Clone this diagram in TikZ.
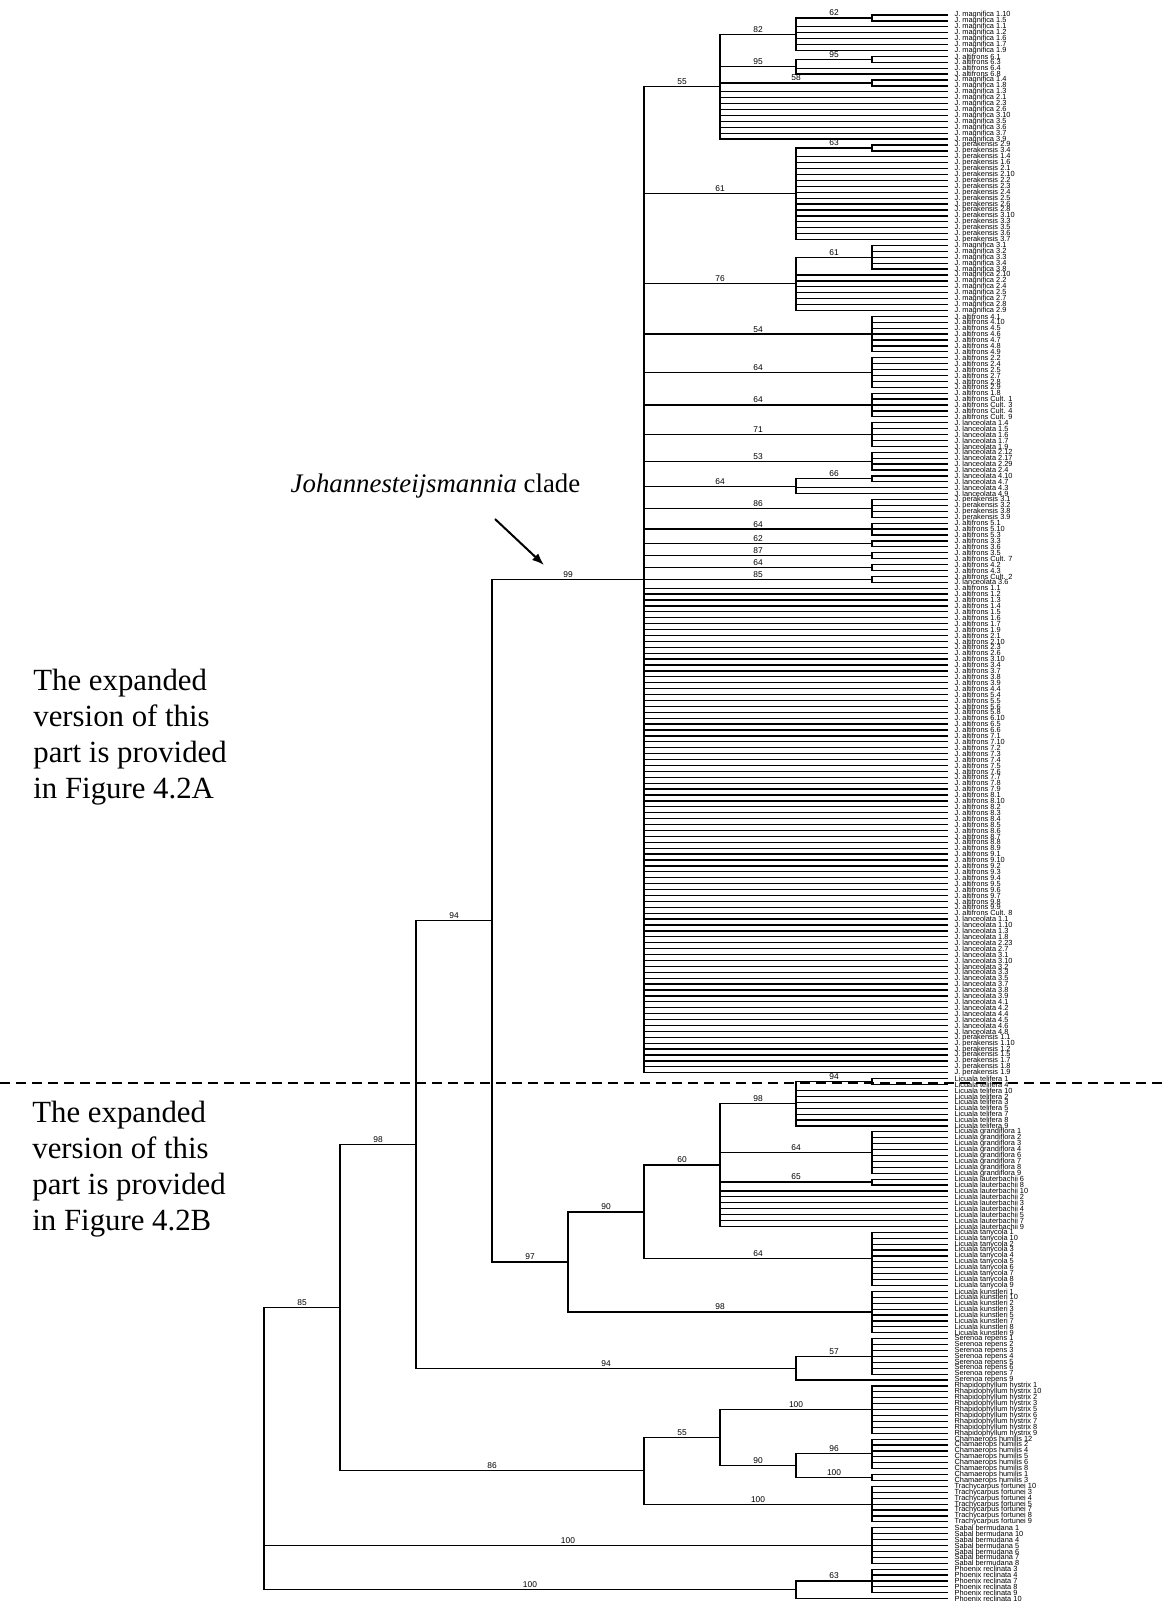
\documentclass[tikz,border=0pt]{standalone}
\usepackage{fontspec}
\setmainfont{Liberation Serif}
\newfontfamily\arialfont{Liberation Sans}
\newcommand{\tipfont}{\arialfont\fontsize{3.7}{4}\selectfont}
\newcommand{\bsfont}{\arialfont\fontsize{4.2}{4.5}\selectfont}
\newcommand{\notefont}{\fontsize{15.4}{18}\selectfont}
\usetikzlibrary{arrows.meta}

\begin{document}
\begin{tikzpicture}[
		x=0.5pt, y=-0.5pt,
		tip/.style={anchor=west, inner xsep=3pt, inner ysep=0pt, font=\tipfont},
		bs/.style={pos=0.75, above, inner sep=0.7pt, font=\bsfont},
		branch/.style={line width=0.6pt},
		note/.style={anchor=west, align=left, inner sep=0pt, font=\notefont}
	]
	\path[fill=white, use as bounding box] (0,0) rectangle (1164,1601);

	\begin{scope}[shift={(0,9.091)}, yscale=5.909, branch]
		% tips
		\foreach \s [count=\i] in {1.10,1.5,1.1,1.2,1.6,1.7,1.9}
			\node[tip] (t\i) at (948,\i) {J. magnifica \s};
		\foreach \s [count=\i from 8] in {6.1,6.3,6.4,6.8}
			\node[tip] (t\i) at (948,\i) {J. altifrons \s};
		\foreach \s [count=\i from 12] in {1.4,1.8,1.3,2.1,2.3,2.6,3.10,3.5,3.6,3.7,3.9}
			\node[tip] (t\i) at (948,\i) {J. magnifica \s};
		\foreach \s [count=\i from 23] in {2.9,3.4,1.4,1.6,2.1,2.10,2.2,2.3,2.4,2.5,2.6,2.8,3.10,3.3,3.5,3.6,3.7}
			\node[tip] (t\i) at (948,\i) {J. perakensis \s};
		\foreach \s [count=\i from 40] in {3.1,3.2,3.3,3.4,3.8,2.10,2.2,2.4,2.5,2.7,2.8,2.9}
			\node[tip] (t\i) at (948,\i) {J. magnifica \s};
		\foreach \s [count=\i from 52] in {4.1,4.10,4.5,4.6,4.7,4.8,4.9,2.2,2.4,2.5,2.7,2.8,2.9,1.8,Cult. 1,Cult. 3,Cult. 4,Cult. 9}
			\node[tip] (t\i) at (948,\i) {J. altifrons \s};
		\foreach \s [count=\i from 70] in {1.4,1.5,1.6,1.7,1.9,2.12,2.17,2.29,2.4,4.10,4.7,4.3,4.9}
			\node[tip] (t\i) at (948,\i) {J. lanceolata \s};
		\foreach \s [count=\i from 83] in {3.1,3.2,3.8,3.9}
			\node[tip] (t\i) at (948,\i) {J. perakensis \s};
		\foreach \s [count=\i from 87] in {5.1,5.10,5.3,3.3,3.6,3.5,Cult. 7,4.2,4.3,Cult. 2}
			\node[tip] (t\i) at (948,\i) {J. altifrons \s};
		\node[tip] (t97) at (948,97) {J. lanceolata 3.6};
		\foreach \s [count=\i from 98] in {1.1,1.2,1.3,1.4,1.5,1.6,1.7,1.9,2.1,2.10,2.3,2.6,3.10,3.4,3.7,
				3.8,3.9,4.4,5.4,5.5,5.6,5.8,6.10,6.5,6.6,7.1,7.10,7.2,7.3,7.4,7.5,7.6,7.7,7.8,7.9,8.1,8.10,8.2,
				8.3,8.4,8.5,8.6,8.7,8.8,8.9,9.1,9.10,9.2,9.3,9.4,9.5,9.6,9.7,9.8,9.9,Cult. 8}
			\node[tip] (t\i) at (948,\i) {J. altifrons \s};
		\foreach \s [count=\i from 154] in {1.1,1.10,1.3,1.8,2.23,2.7,3.1,3.10,3.2,3.3,3.5,3.7,3.8,3.9,4.1,4.2,4.4,4.5,4.6,4.8}
			\node[tip] (t\i) at (948,\i) {J. lanceolata \s};
		\foreach \s [count=\i from 174] in {1.1,1.10,1.2,1.5,1.7,1.8,1.9}
			\node[tip] (t\i) at (948,\i) {J. perakensis \s};
		\foreach \s [count=\i from 181] in {1,4,10,2,3,5,7,8,9}
			\node[tip] (t\i) at (948,\i) {Licuala telifera \s};
		\foreach \s [count=\i from 190] in {1,2,3,4,6,7,8,9}
			\node[tip] (t\i) at (948,\i) {Licuala grandiflora \s};
		\foreach \s [count=\i from 198] in {6,8,10,2,3,4,5,7,9}
			\node[tip] (t\i) at (948,\i) {Licuala lauterbachii \s};
		\foreach \s [count=\i from 207] in {1,10,2,3,4,5,6,7,8,9}
			\node[tip] (t\i) at (948,\i) {Licuala tanycola \s};
		\foreach \s [count=\i from 217] in {1,10,2,3,5,7,8,9}
			\node[tip] (t\i) at (948,\i) {Licuala kunstleri \s};
		\foreach \s [count=\i from 225] in {1,2,3,4,5,6,7,9}
			\node[tip] (t\i) at (948,\i) {Serenoa repens \s};
		\foreach \s [count=\i from 233] in {1,10,2,3,5,6,7,8,9}
			\node[tip] (t\i) at (948,\i) {Rhapidophyllum hystrix \s};
		\foreach \s [count=\i from 242] in {12,2,4,5,6,8,1,3}
			\node[tip] (t\i) at (948,\i) {Chamaerops humilis \s};
		\foreach \s [count=\i from 250] in {10,3,4,5,7,8,9}
			\node[tip] (t\i) at (948,\i) {Trachycarpus fortunei \s};
		\foreach \s [count=\i from 257] in {1,10,4,5,6,7,8}
			\node[tip] (t\i) at (948,\i) {Sabal bermudana \s};
		\foreach \s [count=\i from 264] in {3,4,7,8,9,10}
			\node[tip] (t\i) at (948,\i) {Phoenix reclinata \s};

		% inner nodes, Johannesteijsmannia part
		\coordinate (a62) at (872,1.5);
		\coordinate (a95) at (872,8.5);
		\coordinate (a58) at (872,12.5);
		\coordinate (a63) at (872,23.5);
		\coordinate (a61b) at (872,42);
		\coordinate (a54) at (872,55);
		\coordinate (a64a) at (872,61.5);
		\coordinate (a64b) at (872,67);
		\coordinate (a71) at (872,72);
		\coordinate (a53) at (872,76.5);
		\coordinate (a66) at (872,79.5);
		\coordinate (a86) at (872,84.5);
		\coordinate (a64c) at (872,88);
		\coordinate (a62b) at (872,90.5);
		\coordinate (a87) at (872,92.5);
		\coordinate (a64d) at (872,94.5);
		\coordinate (a85) at (872,96.5);
		\coordinate (a82) at (796,4.25);
		\coordinate (a95n) at (796,9.75);
		\coordinate (a61) at (796,31.25);
		\coordinate (a76) at (796,46.5);
		\coordinate (a64e) at (796,80.75);
		\coordinate (a55) at (720,13.125);
		\coordinate (a99) at (644,96.5625);

		% inner nodes, outgroups
		\coordinate (b94) at (872,181.5);
		\coordinate (b64) at (872,193.5);
		\coordinate (b65) at (872,198.5);
		\coordinate (b64t) at (872,211.5);
		\coordinate (b98k) at (872,220.5);
		\coordinate (b57) at (872,228);
		\coordinate (b100r) at (872,237);
		\coordinate (b96) at (872,244.5);
		\coordinate (b100c) at (872,248.5);
		\coordinate (b100t) at (872,253);
		\coordinate (b100s) at (872,260);
		\coordinate (b63) at (872,266);
		\coordinate (b98) at (796,185.25);
		\coordinate (b94s) at (796,230);
		\coordinate (b90) at (796,246.5);
		\coordinate (b100p) at (796,267.5);
		\coordinate (b60) at (720,195.625);
		\coordinate (b55) at (720,241.75);
		\coordinate (b90n) at (644,203.5625);
		\coordinate (b86n) at (644,247.375);
		\coordinate (b97n) at (568,212.03125);
		\coordinate (c94n) at (492,154.296875);
		\coordinate (c98n) at (416,192.1484375);
		\coordinate (c85n) at (340,219.76171875);
		\coordinate (root) at (264,243.630859375);

		% branches
		\foreach \i in {1,2} \draw (a62) |- (t\i.west);
		\foreach \i in {3,...,7} \draw (a82) |- (t\i.west);
		\draw (a82) |- node[bs] {62} (a62);
		\foreach \i in {8,9} \draw (a95) |- (t\i.west);
		\foreach \i in {10,11} \draw (a95n) |- (t\i.west);
		\draw (a95n) |- node[bs] {95} (a95);
		\foreach \i in {12,13} \draw (a58) |- (t\i.west);
		\foreach \i in {14,...,22} \draw (a55) |- (t\i.west);
		\draw (a55) |- node[bs] {82} (a82);
		\draw (a55) |- node[bs] {95} (a95n);
		\draw (a55) |- node[bs] {58} (a58);
		\foreach \i in {23,24} \draw (a63) |- (t\i.west);
		\foreach \i in {25,...,39} \draw (a61) |- (t\i.west);
		\draw (a61) |- node[bs] {63} (a63);
		\foreach \i in {40,...,44} \draw (a61b) |- (t\i.west);
		\foreach \i in {45,...,51} \draw (a76) |- (t\i.west);
		\draw (a76) |- node[bs] {61} (a61b);
		\foreach \i in {52,...,58} \draw (a54) |- (t\i.west);
		\foreach \i in {59,...,64} \draw (a64a) |- (t\i.west);
		\foreach \i in {65,...,69} \draw (a64b) |- (t\i.west);
		\foreach \i in {70,...,74} \draw (a71) |- (t\i.west);
		\foreach \i in {75,...,78} \draw (a53) |- (t\i.west);
		\foreach \i in {79,80} \draw (a66) |- (t\i.west);
		\foreach \i in {81,82} \draw (a64e) |- (t\i.west);
		\draw (a64e) |- node[bs] {66} (a66);
		\foreach \i in {83,...,86} \draw (a86) |- (t\i.west);
		\foreach \i in {87,88,89} \draw (a64c) |- (t\i.west);
		\foreach \i in {90,91} \draw (a62b) |- (t\i.west);
		\foreach \i in {92,93} \draw (a87) |- (t\i.west);
		\foreach \i in {94,95} \draw (a64d) |- (t\i.west);
		\foreach \i in {96,97} \draw (a85) |- (t\i.west);
		\foreach \i in {98,...,180} \draw (a99) |- (t\i.west);
		\draw (a99) |- node[bs] {55} (a55);
		\draw (a99) |- node[bs] {61} (a61);
		\draw (a99) |- node[bs] {76} (a76);
		\draw (a99) |- node[bs] {54} (a54);
		\draw (a99) |- node[bs] {64} (a64a);
		\draw (a99) |- node[bs] {64} (a64b);
		\draw (a99) |- node[bs] {71} (a71);
		\draw (a99) |- node[bs] {53} (a53);
		\draw (a99) |- node[bs] {64} (a64e);
		\draw (a99) |- node[bs] {86} (a86);
		\draw (a99) |- node[bs] {64} (a64c);
		\draw (a99) |- node[bs] {62} (a62b);
		\draw (a99) |- node[bs] {87} (a87);
		\draw (a99) |- node[bs] {64} (a64d);
		\draw (a99) |- node[bs] {85} (a85);

		\foreach \i in {181,182} \draw (b94) |- (t\i.west);
		\foreach \i in {183,...,189} \draw (b98) |- (t\i.west);
		\draw (b98) |- node[bs] {94} (b94);
		\foreach \i in {190,...,197} \draw (b64) |- (t\i.west);
		\foreach \i in {198,199} \draw (b65) |- (t\i.west);
		\foreach \i in {200,...,206} \draw (b60) |- (t\i.west);
		\draw (b60) |- node[bs] {98} (b98);
		\draw (b60) |- node[bs] {64} (b64);
		\draw (b60) |- node[bs] {65} (b65);
		\foreach \i in {207,...,216} \draw (b64t) |- (t\i.west);
		\draw (b90n) |- node[bs] {60} (b60);
		\draw (b90n) |- node[bs] {64} (b64t);
		\foreach \i in {217,...,224} \draw (b98k) |- (t\i.west);
		\draw (b97n) |- node[bs] {90} (b90n);
		\draw (b97n) |- node[bs] {98} (b98k);
		\draw (c94n) |- node[bs] {99} (a99);
		\draw (c94n) |- node[bs] {97} (b97n);
		\foreach \i in {225,...,231} \draw (b57) |- (t\i.west);
		\draw (b94s) |- (t232.west);
		\draw (b94s) |- node[bs] {57} (b57);
		\draw (c98n) |- node[bs] {94} (c94n);
		\draw (c98n) |- node[bs] {94} (b94s);
		\foreach \i in {233,...,241} \draw (b100r) |- (t\i.west);
		\foreach \i in {242,...,247} \draw (b96) |- (t\i.west);
		\foreach \i in {248,249} \draw (b100c) |- (t\i.west);
		\draw (b90) |- node[bs] {96} (b96);
		\draw (b90) |- node[bs] {100} (b100c);
		\draw (b55) |- node[bs] {100} (b100r);
		\draw (b55) |- node[bs] {90} (b90);
		\foreach \i in {250,...,256} \draw (b100t) |- (t\i.west);
		\draw (b86n) |- node[bs] {55} (b55);
		\draw (b86n) |- node[bs] {100} (b100t);
		\draw (c85n) |- node[bs] {98} (c98n);
		\draw (c85n) |- node[bs] {86} (b86n);
		\foreach \i in {257,...,263} \draw (b100s) |- (t\i.west);
		\foreach \i in {264,...,268} \draw (b63) |- (t\i.west);
		\draw (b100p) |- (t269.west);
		\draw (b100p) |- node[bs] {63} (b63);
		\draw (root) |- node[bs] {85} (c85n);
		\draw (root) |- node[bs] {100} (b100s);
		\draw (root) |- node[bs] {100} (b100p);
	\end{scope}

	% notes
	\node[font=\fontsize{13.4}{16}\selectfont, inner sep=0pt] (cladelab) at (435.5,486) {\textit{Johannesteijsmannia} clade};
	\coordinate (arrS) at (495,519);
	\coordinate (arrE) at (544,565);
	\draw[-{Latex[length=6pt,width=4.5pt]}, line width=1pt] (arrS) -- (arrE);
	\node[note] (noteA) at (33,737) {The expanded\\version of this\\part is provided\\in Figure 4.2A};
	\node[note] (noteB) at (32,1169) {The expanded\\version of this\\part is provided\\in Figure 4.2B};
	\coordinate (cutL) at (0,1082.7);
	\coordinate (cutR) at (1164,1082.7);
	\draw[line width=1pt, dash pattern=on 5pt off 3pt] (cutL) -- (cutR);
\end{tikzpicture}
\end{document}
